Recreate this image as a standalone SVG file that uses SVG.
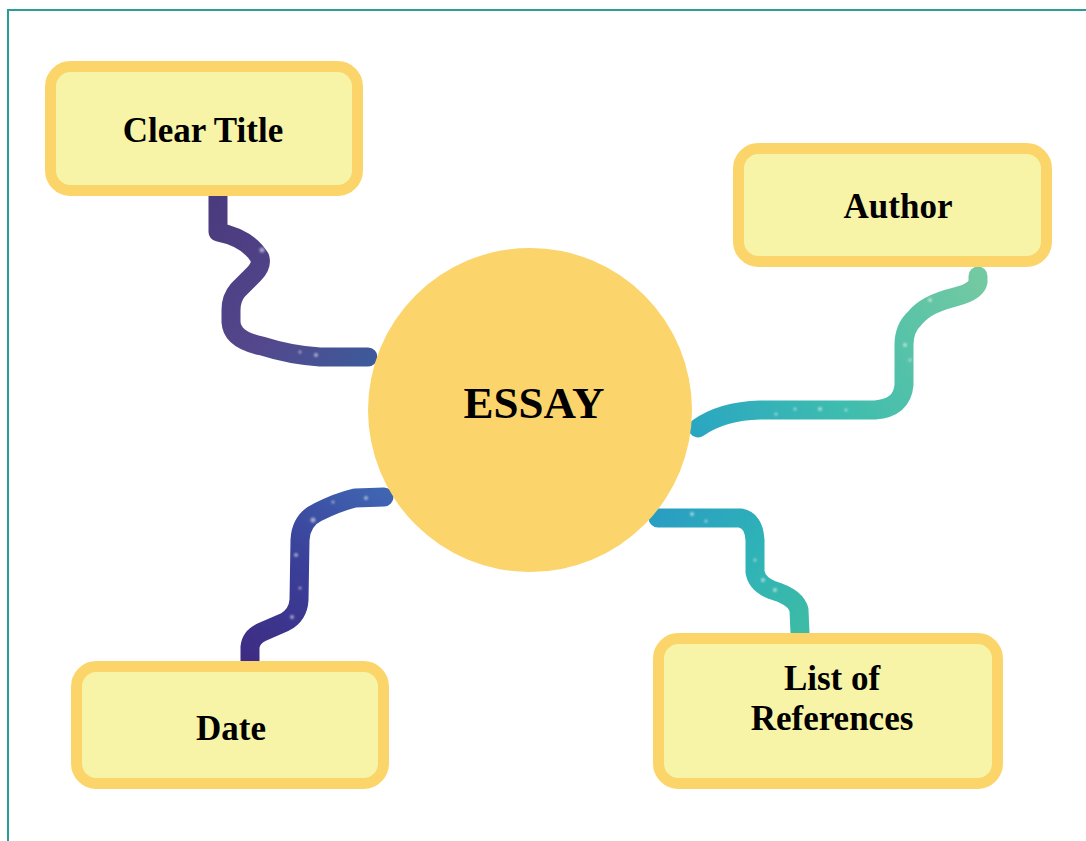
<svg xmlns="http://www.w3.org/2000/svg" width="1086" height="841" viewBox="0 0 1086 841">
<style>
.box{fill:#F7F4A8;stroke:#FCD56A;stroke-width:11}
.lbl{font-family:"Liberation Serif","DejaVu Serif",serif;font-weight:bold;fill:#000;text-anchor:middle}
.con{fill:none;stroke-width:19;stroke-linecap:round;stroke-linejoin:round}
.sp{fill:#fff;opacity:0.55}
</style>
<defs>
<linearGradient id="g1" gradientUnits="userSpaceOnUse" x1="218" y1="196" x2="375" y2="357">
<stop offset="0" stop-color="#4A3A7E"/><stop offset="0.6" stop-color="#54478C"/><stop offset="1" stop-color="#3D5A9A"/>
</linearGradient>
<linearGradient id="g2" gradientUnits="userSpaceOnUse" x1="695" y1="430" x2="978" y2="278">
<stop offset="0" stop-color="#2AA6C2"/><stop offset="0.45" stop-color="#3FBDAE"/><stop offset="1" stop-color="#73C9A2"/>
</linearGradient>
<linearGradient id="g3" gradientUnits="userSpaceOnUse" x1="250" y1="661" x2="385" y2="497">
<stop offset="0" stop-color="#3E2C84"/><stop offset="0.5" stop-color="#3A3F98"/><stop offset="1" stop-color="#3F64B2"/>
</linearGradient>
<linearGradient id="g4" gradientUnits="userSpaceOnUse" x1="658" y1="518" x2="800" y2="633">
<stop offset="0" stop-color="#2A9EC2"/><stop offset="0.5" stop-color="#2EB2B8"/><stop offset="1" stop-color="#3DBBA6"/>
</linearGradient>
<filter id="blur" x="-50%" y="-50%" width="200%" height="200%"><feGaussianBlur stdDeviation="0.8"/></filter>
</defs>
<rect x="8" y="10" width="1100" height="900" fill="#fff" stroke="#2A9D98" stroke-width="2"/>
<g id="connectors">
<path class="con" stroke="url(#g1)" d="M218,196 L218,232 Q248,238 260,258 Q262,266 254,274 L238,290 Q231,298 231,310 L231,322 Q232,340 262,346 Q290,355 320,357 L368,357"/>
<path class="con" stroke="url(#g2)" d="M978,276 L978,282 Q976,292 955,297 Q926,304 915,318 Q904,328 904,345 L904,385 Q902,408 875,410 L760,410 Q722,411 698,428"/>
<path class="con" stroke="url(#g3)" d="M250,661 L250,647 Q251,637 262,632 L285,622 Q298,615 299,600 L300,540 Q301,520 318,512 Q338,502 355,498 L384,497"/>
<path class="con" stroke="url(#g4)" d="M658,518 L740,518 Q754,520 755,540 L755,572 Q757,584 772,590 Q796,597 799,610 L800,633"/>
<g class="sp" filter="url(#blur)">
<circle cx="262" cy="250" r="2.5"/><circle cx="245" cy="262" r="1.5"/><circle cx="316" cy="355" r="2"/><circle cx="300" cy="352" r="1.5"/>
<circle cx="930" cy="300" r="2"/><circle cx="905" cy="345" r="2"/><circle cx="910" cy="360" r="1.5"/><circle cx="820" cy="409" r="2"/><circle cx="776" cy="414" r="1.5"/><circle cx="795" cy="409" r="1.5"/><circle cx="846" cy="410" r="1.5"/>
<circle cx="313" cy="520" r="2.5"/><circle cx="296" cy="555" r="2"/><circle cx="300" cy="588" r="1.5"/><circle cx="292" cy="617" r="2"/><circle cx="366" cy="498" r="2"/><circle cx="333" cy="502" r="1.5"/>
<circle cx="692" cy="514" r="2"/><circle cx="706" cy="521" r="1.5"/><circle cx="763" cy="580" r="2"/><circle cx="775" cy="590" r="2"/><circle cx="755" cy="560" r="1.5"/>
</g>
</g>
<g id="node-essay">
<circle cx="530" cy="410" r="162" fill="#FBD56B"/>
<text class="lbl" x="534" y="418" font-size="45">ESSAY</text>
</g>
<g id="node-clear-title">
<rect class="box" x="50.5" y="66.5" width="307" height="124" rx="20"/>
<text class="lbl" x="203" y="142" font-size="35">Clear Title</text>
</g>
<g id="node-author">
<rect class="box" x="738.5" y="148.5" width="308" height="113" rx="20"/>
<text class="lbl" x="898" y="218" font-size="35">Author</text>
</g>
<g id="node-date">
<rect class="box" x="76.5" y="666.5" width="307" height="117" rx="20"/>
<text class="lbl" x="231" y="740" font-size="35">Date</text>
</g>
<g id="node-references">
<rect class="box" x="658.5" y="638.5" width="339" height="145" rx="20"/>
<text class="lbl" x="832" y="690" font-size="35">List of</text>
<text class="lbl" x="832" y="730" font-size="35">References</text>
</g>
</svg>
